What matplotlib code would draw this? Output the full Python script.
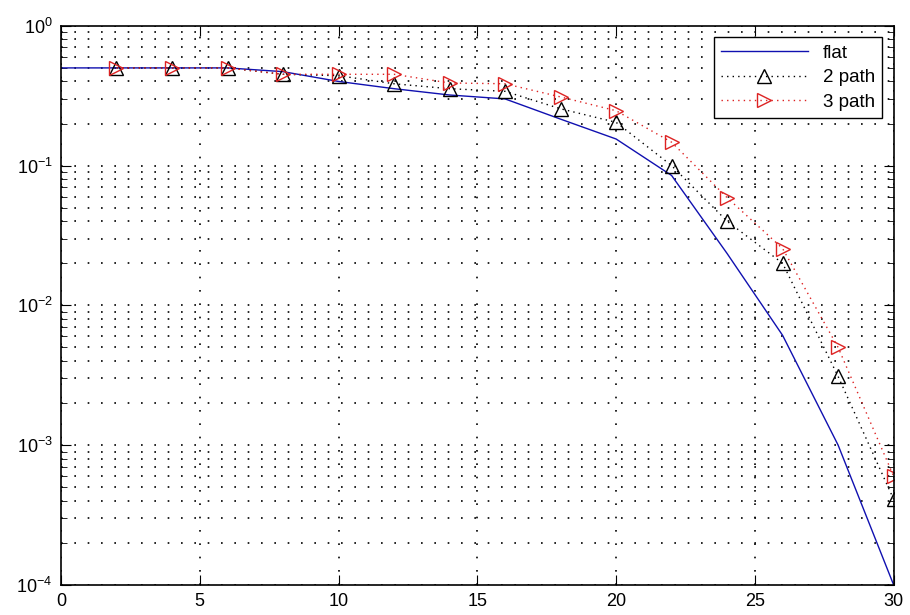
import matplotlib.pyplot as plt
from matplotlib.ticker import LogLocator, NullFormatter, FixedLocator

plt.rcParams['font.family'] = ['Liberation Sans', 'DejaVu Sans']

# flat channel (solid blue)
x_flat = [0, 2, 4, 6, 8, 10, 12, 14, 16, 18, 20, 22, 24, 26, 28, 30]
y_flat = [0.5, 0.5, 0.5, 0.5, 0.47, 0.40, 0.355, 0.32, 0.30, 0.215, 0.155,
          0.085, 0.0235, 0.0061, 0.001, 0.0001]

# 2 path / 3 path (marker series)
x_path = [2, 4, 6, 8, 10, 12, 14, 16, 18, 20, 22, 24, 26, 28, 30]
y_2path = [0.5, 0.5, 0.5, 0.45, 0.44, 0.385, 0.355, 0.34, 0.255, 0.204,
           0.10, 0.040, 0.020, 0.0031, 0.00041]
y_3path = [0.5, 0.5, 0.5, 0.45, 0.45, 0.45, 0.39, 0.385, 0.31, 0.247,
           0.147, 0.059, 0.0255, 0.005, 0.0006]

fig = plt.figure(figsize=(9.1, 6.15), dpi=100)
ax = fig.add_axes([0.067, 0.049, 0.915, 0.909])

ax.semilogy(x_flat, y_flat, '-', color='#1010b0', lw=1.0, label='flat')
ax.semilogy(x_path, y_2path, linestyle=(0, (1, 3)), color='k', lw=1.0,
            marker='^', ms=10, mfc='none', mec='k', label='2 path')
ax.semilogy(x_path, y_3path, linestyle=(0, (1, 3)), color='#dd2222', lw=1.0,
            marker='>', ms=10, mfc='none', mec='#dd2222', label='3 path')

ax.set_xlim(0, 30)
ax.set_ylim(1e-4, 1)
ax.xaxis.set_major_locator(FixedLocator([0, 5, 10, 15, 20, 25, 30]))
ax.yaxis.set_major_locator(LogLocator(base=10, numticks=10))
ax.yaxis.set_minor_locator(LogLocator(base=10, subs=range(2, 10), numticks=10))
ax.yaxis.set_minor_formatter(NullFormatter())

grid_style = dict(linestyle=(0, (1, 7)), color='k', lw=1.2)
ax.grid(True, which='major', axis='both', **grid_style)
ax.grid(True, which='minor', axis='y', **grid_style)

ax.tick_params(which='both', direction='in', top=True, right=True,
               labelsize=13, pad=6)
ax.tick_params(which='major', length=7)
ax.tick_params(which='minor', length=4)
for s in ax.spines.values():
    s.set_linewidth(1.2)

leg = ax.legend(loc='upper right', fontsize=13.5, fancybox=False,
                framealpha=1, edgecolor='k', handlelength=4.6,
                borderaxespad=0.6, labelspacing=0.4)
leg.get_frame().set_linewidth(1.0)

fig.savefig('out.png', dpi=100)
